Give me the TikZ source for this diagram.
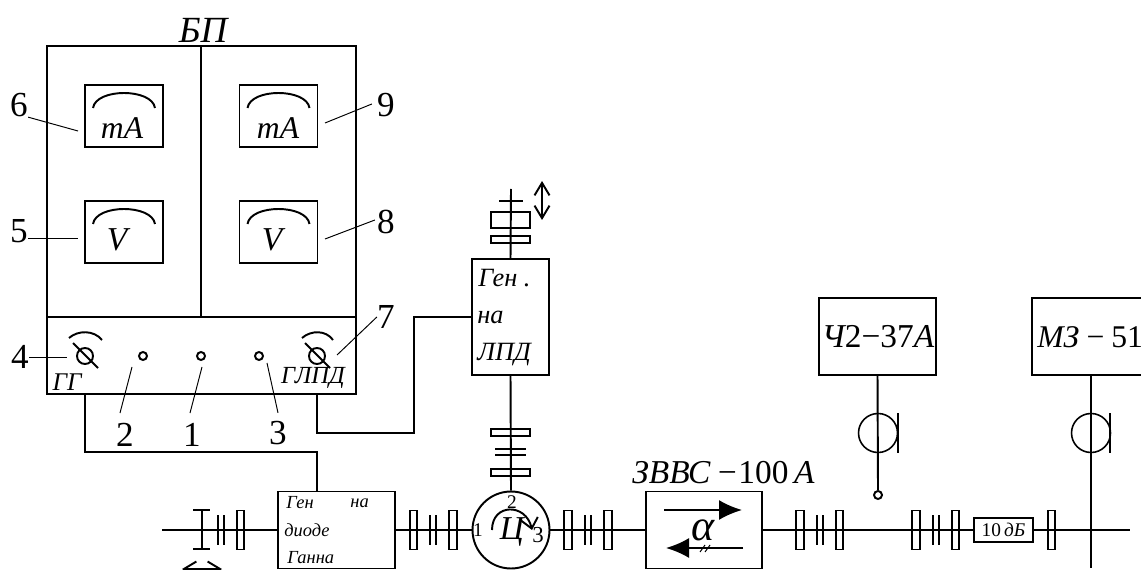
\documentclass[tikz,border=0pt]{standalone}
\usepackage{fontspec}
\setmainfont{Liberation Serif}
\usetikzlibrary{arrows.meta,positioning}
\tikzset{
  wire/.style={draw=black,line width=1.1pt},
  thinline/.style={draw=black,line width=0.55pt},
  unitbox/.style={
    draw=black,
    line width=1.1pt,
    inner sep=0pt
  },
  meterbox/.style={
    unitbox,
    minimum width=1.56cm,
    minimum height=1.24cm
  },
  flange/.style={
    unitbox,
    minimum width=0.15cm,
    minimum height=0.78cm
  },
  flangeup/.style={
    unitbox,
    minimum width=0.78cm,
    minimum height=0.14cm
  },
  hole/.style={
    unitbox,
    circle,
    minimum size=0.16cm
  },
  knob/.style={
    unitbox,
    circle,
    minimum size=0.32cm
  },
  probe/.style={
    unitbox,
    circle,
    minimum size=0.78cm,
    line width=0.9pt
  },
  num/.style={font=\fontsize{20}{22}\selectfont,inner sep=0pt},
  ital/.style={font=\fontsize{19}{20}\selectfont\itshape,inner sep=0pt},
  genlpd/.style={font=\fontsize{15}{16}\selectfont\itshape,inner sep=0pt,anchor=west},
  gengunn/.style={font=\fontsize{10.5}{12}\selectfont\itshape,inner sep=0pt,anchor=west},
  small/.style={font=\fontsize{11}{12}\selectfont,inner sep=0pt}
}
\begin{document}
\begin{tikzpicture}[x=0.02cm,y=-0.02cm]
  \useasboundingbox (0,0) rectangle (1141,570);
  % power supply
  \node[unitbox,minimum width=6.18cm,minimum height=6.96cm] (bp) at (201.5,220) {};
  \node[ital,font=\fontsize{21}{22}\selectfont\itshape] (bplabel) at (203,30) {БП};
  \coordinate (midtop) at (201,46);
  \coordinate (panelL) at (47,317);
  \coordinate (panelR) at (356,317);
  \coordinate (panelM) at (201,317);
  \draw[wire] (panelL) -- (panelR);
  \draw[wire,line width=0.9pt] (midtop) -- (panelM);
  \node[meterbox] (ma1) at (124,116) {};
  \node[meterbox] (v1) at (124,232) {};
  \node[meterbox] (ma2) at (278.5,116) {};
  \node[meterbox] (v2) at (278.5,232) {};
  \node[ital,font=\fontsize{18}{20}\selectfont\itshape] at (122,128) (ma1t) {mA};
  \node[ital,font=\fontsize{18}{20}\selectfont\itshape] at (278,128) (ma2t) {mA};
  \node[ital] at (117,240) (v1t) {V};
  \node[ital] at (272,240) (v2t) {V};
  \foreach \mx in {124,278.5}{
    \foreach \my in {116,232}{
      \draw[wire] (\mx-31,\my-8) .. controls (\mx-28,\my-28) and (\mx+28,\my-28) .. (\mx+31,\my-8);
    }
  }
  % panel
  \node[knob] (knobL) at (85,356) {};
  \node[knob] (knobR) at (317,356) {};
  \draw[wire] (73,343) -- (98,368);
  \draw[wire] (305,343) -- (330,368);
  \draw[wire] (69,338) .. controls (78,330) and (94,330) .. (102,340);
  \draw[wire] (302,338) .. controls (311,330) and (326,330) .. (333,340);
  \node[hole] (h2) at (143,356) {};
  \node[hole] (h1) at (201,356) {};
  \node[hole] (h3) at (259,356) {};
  \node[ital,font=\fontsize{14.5}{16}\selectfont\itshape] (gg) at (67,382) {ГГ};
  \node[ital,font=\fontsize{14}{16}\selectfont\itshape] (glpd) at (313,378) {ГЛПД};
  % numbers
  \node[num] (n6) at (19,105) {6};
  \node[num] (n5) at (19,231) {5};
  \node[num] (n4) at (20,357) {4};
  \node[num] (n9) at (386,105) {9};
  \node[num] (n8) at (386,222) {8};
  \node[num] (n7) at (386,317) {7};
  \node[num] (n2) at (125,435) {2};
  \node[num] (n1) at (192,435) {1};
  \node[num] (n3) at (278,433) {3};
  \draw[thinline] (n6.south east) -- (78,131);
  \draw[thinline] (n5.-41) -- ++(50,0);
  \draw[thinline] (n4.east) -- ++(38,0);
  \draw[thinline] (n9.west) ++(-5,-1) -- (325,123);
  \draw[thinline] (n8.west) ++(-2,-2) -- (325,239);
  \draw[thinline] (n7.west) -- (337,355);
  \draw[thinline] (n2.north) ++(-5,-10) -- (132,367);
  \draw[thinline] (n1.north) ++(-2,-10) -- (202,367);
  \draw[thinline] (n3.north) ++(0,-8) -- (267,363);
  % generators
  \node[unitbox,minimum width=1.54cm,minimum height=2.32cm] (genl) at (510.5,317) {};
  \node[genlpd] (gl1) at (478,278) {Ген .};
  \node[genlpd] (gl2) at (477,317) {на};
  \node[genlpd] (gl3) at (477,355) {ЛПД};
  \node[unitbox,minimum width=2.34cm,minimum height=1.54cm] (geng) at (336.5,530) {};
  \node[gengunn] (gg1) at (286,503) {Ген};
  \node[gengunn] (gg2) at (350,503) {на};
  \node[gengunn] (gg3) at (284,530) {диоде};
  \node[gengunn] (gg4) at (287,558) {Ганна};
  \coordinate (glpdout) at (317,394);
  \coordinate (ggout) at (85,394);
  \coordinate (ggin) at (317,491);
  \draw[wire] (glpdout) |- (414,433) |- (genl.west);
  \draw[wire] (ggout) |- (317,452) -- (ggin);
  % upper tuner
  \coordinate (tunertop) at (511,189);
  \draw[wire] (tunertop) -- (genl.north);
  \coordinate (capA) at (499,201);
  \coordinate (capB) at (523,201);
  \draw[wire] (capA) -- (capB);
  \node[unitbox,minimum width=0.78cm,minimum height=0.32cm] (tune1) at (510.5,220) {};
  \node[flangeup] (tune2) at (510.5,239.5) {};
  \draw[wire,{Straight Barb[length=2.5mm,width=3mm]}-{Straight Barb[length=2.5mm,width=3mm]}] (542,181) -- (542,220);
  % circulator
  \node[unitbox,circle,minimum size=1.54cm] (circ) at (511,530) {};
  \node[font=\fontsize{19}{20}\selectfont\itshape,inner sep=0pt] (circt) at (512,532) {Ц};
  \node[small] (c1) at (478,530) {1};
  \node[small] (c2) at (512,502) {2};
  \node[small,font=\fontsize{13}{14}\selectfont] (c3) at (538,535) {3};
  \draw[wire,-{Straight Barb[length=2mm,width=3.4mm]}] (492,530) .. controls (492,503) and (526,503) .. (532,530);
  \draw[wire] (genl.south) -- (circ.north);
  \node[flangeup] (up1) at (510.5,432.5) {};
  \node[flangeup] (up2) at (510.5,472.5) {};
  \coordinate (chA) at (495,449);
  \coordinate (chB) at (526,449);
  \coordinate (chC) at (495,455);
  \coordinate (chD) at (526,455);
  \draw[wire] (chA) -- (chB);
  \draw[wire] (chC) -- (chD);
  % isolator
  \node[unitbox,minimum width=2.32cm,minimum height=1.54cm] (iso) at (704,530) {};
  \node[ital,anchor=west] (isot) at (632,473) {ЗВВС\,−\upshape 100\,\itshape A};
  \node[font=\fontsize{25}{26}\selectfont\itshape,inner sep=0pt] (alpha) at (703,530) {α};
  \draw[wire,-{Latex[length=4.6mm,width=4mm]}] (664,510) -- (742,510);
  \draw[wire,-{Latex[length=4.6mm,width=4mm]}] (743,548) -- (666,548);
  \draw[thinline] (700,552) -- (705,545);
  \draw[thinline] (705,552) -- (710,545);
  % attenuator
  \node[unitbox,minimum width=1.18cm,minimum height=0.48cm] (att) at (1003.5,530) {};
  \node[small] (attt) at (1003.5,530) {10\,\textit{дБ}};
  % main line
  \coordinate (lineL) at (162,530);
  \coordinate (lineR) at (1130,530);
  \draw[wire] (lineL) -- (geng.west);
  \draw[wire] (geng.east) -- (circ.west);
  \draw[wire] (circ.east) -- (iso.west);
  \draw[wire] (iso.east) -- (att.west);
  \draw[wire] (att.east) -- (lineR);
  \foreach \fx in {240.5,413.5,453,568,608,800,839.5,916,955.5,1051.5}{
    \node[flange] (fl\fx) at (\fx,530) {};
  }
  \foreach \cx in {218,224,430,436,585,591,817,823,933,939}{
    \draw[wire] (\cx,515) -- (\cx,545);
  }
  % short plunger
  \coordinate (plA) at (202,510);
  \coordinate (plB) at (202,549);
  \draw[wire] (plA) -- (plB);
  \draw[wire] (193,510) -- (210,510);
  \draw[wire] (193,549) -- (210,549);
  \coordinate (dblL) at (182,569);
  \coordinate (dblR) at (222,569);
  \draw[wire,{Straight Barb[length=2.5mm,width=3mm]}-{Straight Barb[length=2.5mm,width=3mm]}] (dblL) -- (dblR);
  % instruments
  \node[unitbox,minimum width=2.34cm,minimum height=1.54cm] (ch) at (877.5,336.5) {};
  \node[ital] (cht) at (878,337) {Ч\upshape 2−37\itshape А};
  \node[unitbox,minimum width=3.36cm,minimum height=1.54cm] (mz) at (1116,336.5) {};
  \node[ital,font=\fontsize{18}{20}\selectfont\itshape,anchor=west] (mzt) at (1037,337) {МЗ\,−\,\upshape 51};
  \node[probe] (pr1) at (878,433) {};
  \node[probe] (pr2) at (1091,433) {};
  \node[hole] (tip) at (878,495) {};
  \coordinate (mzend) at (1091,568);
  \draw[wire] (ch.south) -- (tip.north);
  \draw[wire,line width=0.9pt] (mz.south -| mzend) -- (mzend);
  \foreach \bx in {898,1110}{
    \draw[wire] (\bx,413) -- (\bx,453);
  }
\end{tikzpicture}
\end{document}
